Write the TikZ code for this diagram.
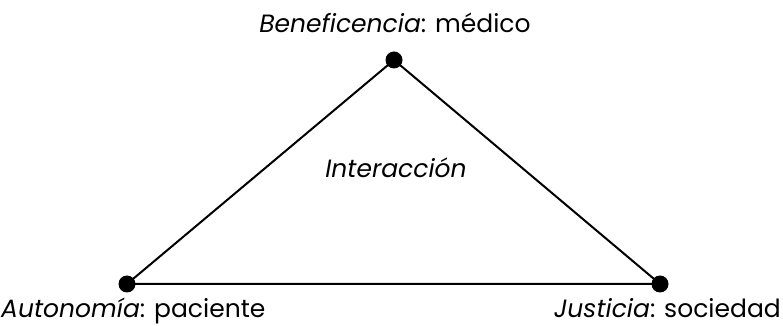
\documentclass[tikz,border=0pt]{standalone}
\usepackage{fontspec}
\setmainfont{Poppins}
\begin{document}
\begin{tikzpicture}[x=1pt,y=1pt,
  vertex/.style={circle,fill=black,inner sep=0pt,minimum size=17pt},
  lbl/.style={inner sep=0pt,font=\fontsize{25}{30}\selectfont},
  edge/.style={line width=2pt}]
\useasboundingbox (0,0) rectangle (783,326);
\node[vertex] (b) at (394,266) {};
\node[vertex] (a) at (127,42) {};
\node[vertex] (j) at (660,42) {};
\draw[edge] (a.center) -- (b.center) -- (j.center) -- cycle;
\node[lbl,anchor=base] (tb) at (395,293) {\textit{Beneficencia}: médico};
\node[lbl,anchor=base west] (ta) at (1,8) {\textit{Autonomía}: paciente};
\node[lbl,anchor=base east] (tj) at (781,8) {\textit{Justicia}: sociedad};
\node[lbl,anchor=base] (ti) at (396,148) {\textit{Interacción}};
\end{tikzpicture}
\end{document}
